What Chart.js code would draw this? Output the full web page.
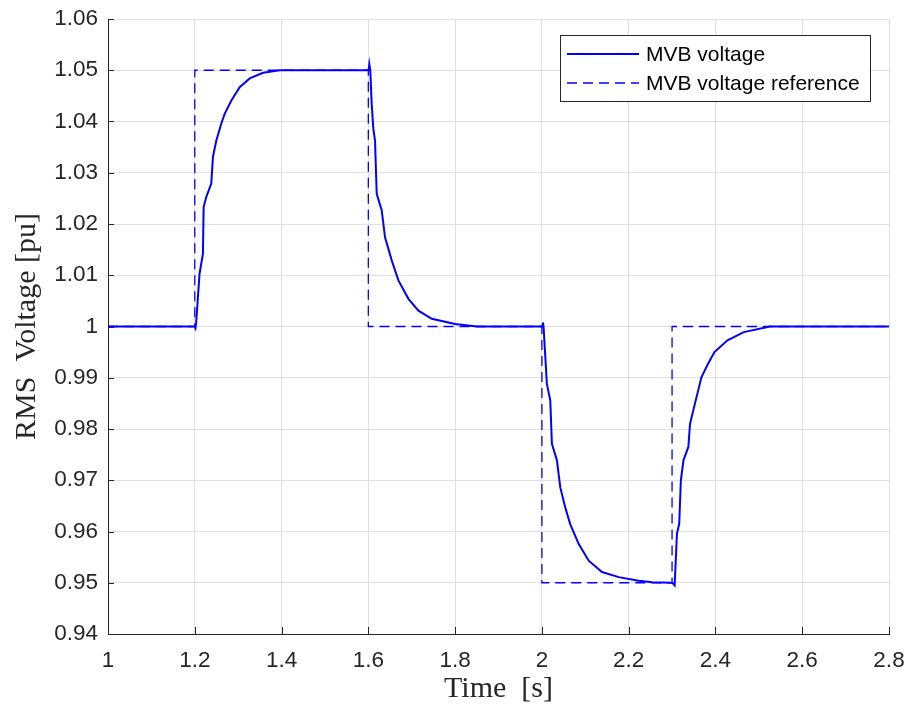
<!DOCTYPE html>
<html>
<head>
<meta charset="utf-8">
<script src="https://cdn.jsdelivr.net/npm/chart.js@4.4.1/dist/chart.umd.min.js"></script>
<style>
  html, body { margin: 0; padding: 0; background: #ffffff; }
  #wrap { width: 909px; height: 706px; }
</style>
</head>
<body>
<div id="wrap"><canvas id="c" width="909" height="706"></canvas></div>
<script>
// ---- data ----
const tVoltage = [1.0, 1.2, 1.2015, 1.203, 1.211, 1.2188, 1.2204, 1.2266, 1.238, 1.2419, 1.2497, 1.2612, 1.2689, 1.2843, 1.3035, 1.3266, 1.3573, 1.3958, 1.45, 1.6, 1.601, 1.6023, 1.6045, 1.6077, 1.6115, 1.6154, 1.6193, 1.6308, 1.6385, 1.6539, 1.6693, 1.6924, 1.7155, 1.7463, 1.8, 1.85, 2.0, 2.0015, 2.0025, 2.0038, 2.0115, 2.0193, 2.0231, 2.0346, 2.0424, 2.0539, 2.0655, 2.0847, 2.1078, 2.1386, 2.1771, 2.2233, 2.2541, 2.3, 2.304, 2.306, 2.3113, 2.3165, 2.3203, 2.3263, 2.3376, 2.3414, 2.3526, 2.3677, 2.3827, 2.3977, 2.4278, 2.4654, 2.5256, 2.8];
const vVoltage = [1.0, 1.0, 0.9997, 1.0005, 1.0103, 1.0142, 1.0233, 1.0253, 1.0279, 1.0331, 1.0363, 1.0396, 1.0415, 1.0441, 1.0467, 1.0484, 1.0495, 1.05, 1.05, 1.05, 1.0502, 1.0512, 1.05, 1.0435, 1.0386, 1.0363, 1.0259, 1.0227, 1.0174, 1.0129, 1.009, 1.0054, 1.0031, 1.0015, 1.0005, 1.0, 1.0, 1.0003, 1.0008, 1.0, 0.9888, 0.9856, 0.9771, 0.9739, 0.9686, 0.9647, 0.9614, 0.9576, 0.9543, 0.9521, 0.9511, 0.9504, 0.9501, 0.95, 0.9497, 0.9495, 0.9596, 0.9615, 0.97, 0.9739, 0.9765, 0.981, 0.9849, 0.9901, 0.9927, 0.995, 0.9973, 0.9989, 1.0, 1.0];
const tReference = [1.0, 1.2, 1.2, 1.6, 1.6, 2.0, 2.0, 2.3, 2.3, 2.8];
const vReference = [1.0, 1.0, 1.05, 1.05, 1.0, 1.0, 0.95, 0.95, 1.0, 1.0];
const xTicks = [1, 1.2, 1.4, 1.6, 1.8, 2, 2.2, 2.4, 2.6, 2.8];
const yTicks = [0.94, 0.95, 0.96, 0.97, 0.98, 0.99, 1, 1.01, 1.02, 1.03, 1.04, 1.05, 1.06];
const seriesLabels = ['MVB voltage', 'MVB voltage reference'];
const axisTitles = { x: 'Time  [s]', y: 'RMS  Voltage [pu]' };

const toPoints = (ts, vs) => ts.map((t, i) => ({ x: t, y: vs[i] }));
const fmt = v => String(parseFloat(Number(v).toFixed(2)));

const AX = '#262626';
const GRID = '#e0e0e0';
const SANS = "'Liberation Sans', Arial, sans-serif";
const SERIF = "'Liberation Serif', 'Times New Roman', serif";

// inward tick marks (MATLAB style)
const inwardTicks = {
  id: 'inwardTicks',
  beforeDatasetsDraw(chart) {
    const { ctx, chartArea: a, scales } = chart;
    ctx.save();
    ctx.strokeStyle = AX;
    ctx.lineWidth = 1;
    ctx.beginPath();
    scales.y.ticks.forEach(t => {
      const y = Math.round(scales.y.getPixelForValue(t.value)) + 0.5;
      ctx.moveTo(a.left, y); ctx.lineTo(a.left + 6, y);
    });
    scales.x.ticks.forEach(t => {
      const x = Math.round(scales.x.getPixelForValue(t.value)) + 0.5;
      ctx.moveTo(x, a.bottom); ctx.lineTo(x, a.bottom - 7);
    });
    ctx.stroke();
    ctx.restore();
  }
};

// boxed legend inside the axes (top right)
const boxLegend = {
  id: 'boxLegend',
  afterDatasetsDraw(chart) {
    const { ctx } = chart;
    const x0 = 560.5, y0 = 35.5, w = 310, h = 66;
    ctx.save();
    ctx.fillStyle = '#ffffff';
    ctx.fillRect(x0, y0, w, h);
    ctx.strokeStyle = AX;
    ctx.lineWidth = 1;
    ctx.strokeRect(x0, y0, w, h);
    chart.data.datasets.forEach((ds, i) => {
      const yy = 54 + i * 29;
      ctx.beginPath();
      ctx.strokeStyle = ds.borderColor;
      ctx.lineWidth = ds.borderWidth;
      ctx.setLineDash(ds.borderDash || []);
      ctx.moveTo(567, yy); ctx.lineTo(639, yy);
      ctx.stroke();
      ctx.setLineDash([]);
      ctx.fillStyle = '#000000';
      ctx.font = '21px ' + SANS;
      ctx.textBaseline = 'middle';
      ctx.textAlign = 'left';
      ctx.fillText(ds.label, 646, yy + 1);
    });
    ctx.restore();
  }
};

new Chart(document.getElementById('c'), {
  type: 'line',
  data: {
    datasets: [
      {
        label: seriesLabels[0],
        data: toPoints(tVoltage, vVoltage),
        borderColor: '#0000ff',
        borderWidth: 2,
        pointRadius: 0,
        tension: 0,
        fill: false
      },
      {
        label: seriesLabels[1],
        data: toPoints(tReference, vReference),
        borderColor: '#0000ff',
        borderWidth: 1.3,
        borderDash: [10, 6],
        pointRadius: 0,
        tension: 0,
        fill: false
      }
    ]
  },
  options: {
    responsive: false,
    animation: false,
    layout: { padding: { left: 0, top: 19, right: 20, bottom: 0 } },
    plugins: {
      legend: { display: false },
      tooltip: { enabled: false }
    },
    scales: {
      x: {
        type: 'linear',
        min: 1, max: 2.8,
        afterFit: s => { s.height = 72; s.paddingLeft = 0; s.paddingRight = 0; },
        afterBuildTicks: s => { s.ticks = xTicks.map(v => ({ value: v })); },
        ticks: {
          autoSkip: false, maxRotation: 0, padding: 13,
          color: AX, font: { family: SANS, size: 22.5 },
          callback: v => fmt(v)
        },
        grid: { color: GRID, lineWidth: 1, drawTicks: false },
        border: { display: true, color: AX, width: 1 },
        title: {
          display: true, text: axisTitles.x, color: AX,
          font: { family: SERIF, size: 30 }, padding: { top: 0, bottom: -1 }
        }
      },
      y: {
        type: 'linear',
        min: 0.94, max: 1.06,
        afterFit: s => { s.width = 108; s.paddingTop = 0; s.paddingBottom = 0; },
        afterBuildTicks: s => { s.ticks = yTicks.map(v => ({ value: v })); },
        ticks: {
          autoSkip: false, padding: 10,
          color: AX, font: { family: SANS, size: 22.5 },
          callback: v => fmt(v)
        },
        grid: { color: GRID, lineWidth: 1, drawTicks: false },
        border: { display: true, color: AX, width: 1 },
        title: {
          display: true, text: axisTitles.y, color: AX,
          font: { family: SERIF, size: 30 }, padding: { top: 9, bottom: 0 }
        }
      }
    }
  },
  plugins: [inwardTicks, boxLegend]
});
</script>
</body>
</html>
